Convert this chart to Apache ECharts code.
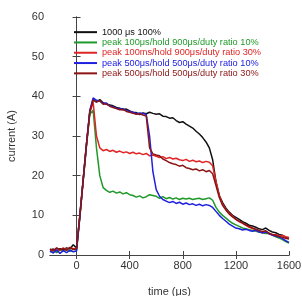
<!DOCTYPE html>
<html>
<head>
<meta charset="utf-8">
<script src="https://cdn.jsdelivr.net/npm/echarts@6/dist/echarts.min.js"></script>
<style>
  html, body { margin: 0; padding: 0; background: #fff; }
  #chart { width: 302px; height: 296px; }
</style>
</head>
<body>
<div id="chart"></div>
<script>
// time axis in µs, every 25 µs from -200 to 1600
const times = []
for (let t = -200; t <= 1600; t += 25) times.push(t)
const xTicks = [0, 400, 800, 1200, 1600]

const names = [
  '1000 μs 100%',
  'peak 100μs/hold 900μs/duty ratio 10%',
  'peak 100ms/hold 900μs/duty ratio 30%',
  'peak 500μs/hold 500μs/duty ratio 10%',
  'peak 500μs/hold 500μs/duty ratio 30%'
]
const colors = ['#111111', '#1f9a2a', '#e02424', '#2020e0', '#8c1414']

const full100 = [
  1.2, 1.5, 1.0, 1.6, 1.4, 1.8, 1.5, 2.6, 1.8,
  10, 19, 28, 36, 39.3, 38.5, 39.2, 38.4, 38.0, 37.8, 37.6, 37.2, 37.0, 36.6, 36.8,
  36.3, 36.0, 35.9, 35.4, 35.8, 35.6, 36.0, 35.7, 35.5, 35.6, 35.0, 34.9, 34.5, 34.6,
  33.9, 33.4, 33.6, 33.0, 32.5, 32.0, 31.2, 30.5, 29.6, 28.5, 27.0, 24.0, 18.5, 15.0,
  13.2, 11.8, 10.8, 10.0, 9.5, 9.0, 8.4, 8.0, 7.5, 7.3, 7.0, 6.6, 6.4, 6.8, 6.2, 5.8,
  5.6, 5.2, 5.0, 4.5, 4.2
]
const p100h900d10 = [
  0.8, 1.2, 0.6, 1.3, 1.0, 1.4, 0.9, 1.5, 1.2,
  9.5, 18.5, 27.5, 35.5, 36.5, 27.0, 20.0, 17.0, 16.3, 15.8, 16.1, 15.6, 15.9, 15.4, 15.7,
  15.2, 15.0, 14.6, 14.9, 14.4, 14.7, 15.2, 15.0, 14.8, 14.3, 14.7, 14.2, 14.5, 14.1,
  14.4, 14.0, 14.3, 14.1, 14.3, 14.0, 14.2, 14.3, 14.0, 14.2, 14.4, 13.8, 12.0, 10.8,
  10.0, 9.3, 8.6, 8.0, 7.6, 7.2, 6.8, 6.6, 6.4, 6.2, 6.0, 5.8, 5.6, 5.4, 5.5, 5.0,
  4.6, 4.3, 3.9, 3.4, 3.0
]
const p100h900d30 = [
  1.4, 1.0, 1.7, 1.2, 1.8, 1.3, 1.9, 1.6, 1.7,
  10, 19, 28, 36, 38.5, 30.0, 27.0, 26.3, 26.6, 26.1, 26.4, 25.9, 26.2, 25.8, 26.0,
  25.6, 25.9, 25.5, 25.7, 25.3, 25.6, 25.0, 25.2, 24.9, 24.6, 24.8, 24.3, 24.6, 24.2,
  24.4, 24.0, 23.8, 24.1, 23.6, 23.9, 23.5, 23.7, 23.3, 23.6, 23.4, 22.5, 18.5, 15.0,
  12.8, 11.5, 10.5, 9.8, 9.0, 8.4, 8.0, 7.5, 7.0, 6.7, 6.3, 6.0, 5.6, 5.9, 5.3, 5.0,
  5.2, 4.8, 4.9, 4.6, 4.4
]
const p500h500d10 = [
  1.0, 0.5, 1.3, 0.4, 1.1, 0.6, 1.2, 0.8, 1.0,
  9.8, 19, 28, 36.5, 39.6, 39.0, 38.8, 38.2, 38.3, 37.6, 37.4, 37.0, 36.8, 36.9, 36.4,
  36.2, 36.0, 35.6, 35.8, 35.7, 35.4, 30.0, 21.0, 16.5, 14.8, 14.0, 13.6, 13.2, 13.5,
  13.0, 13.3, 12.8, 13.1, 12.7, 12.9, 12.5, 12.8, 12.4, 12.7, 12.5, 12.0, 11.0, 10.0,
  9.2, 8.5, 7.8, 7.3, 6.8, 6.6, 6.3, 6.5, 6.2, 6.0, 6.3, 5.8, 5.6, 5.8, 5.4, 5.0,
  4.8, 4.5, 4.2, 3.6, 3.2
]
const p500h500d30 = [
  1.5, 1.1, 1.8, 1.3, 1.6, 1.2, 1.9, 1.4, 1.6,
  10, 19, 28, 36.2, 39.0, 38.6, 38.9, 38.0, 38.1, 37.5, 37.2, 36.9, 36.6, 36.7, 36.2,
  36.0, 35.7, 35.5, 35.6, 35.3, 35.0, 27.0, 25.5, 25.2, 25.0, 24.2, 23.8, 23.3, 23.0,
  22.8, 22.4, 22.6, 22.0, 21.8, 21.5, 21.7, 21.2, 21.5, 21.0, 21.3, 20.5, 17.5, 14.5,
  12.5, 11.3, 10.3, 9.6, 9.0, 8.5, 8.1, 7.6, 7.2, 6.8, 6.5, 6.2, 5.9, 6.1, 5.5, 5.2,
  4.9, 4.7, 4.5, 4.2, 4.0
]
const allData = [full100, p100h900d10, p100h900d30, p500h500d10, p500h500d30]

const chart = echarts.init(document.getElementById('chart'))
const axisCommon = {
  axisLine: { show: true, lineStyle: { color: '#444', width: 1 } },
  splitLine: { show: false }
}
const tickStyle = { show: true, inside: true, length: 4, lineStyle: { color: '#444' } }
const font = 'Liberation Sans'
chart.setOption({
  animation: false,
  grid: { left: 50, right: 13, top: 17, bottom: 41, outerBoundsMode: 'none' },
  legend: {
    left: 74,
    top: 27,
    padding: 0,
    orient: 'vertical',
    icon: 'rect',
    itemWidth: 23,
    itemHeight: 2,
    itemGap: 0,
    textStyle: { fontSize: 9.2, lineHeight: 10.3, fontFamily: font },
    data: names.map((n, i) => ({ name: n, textStyle: { color: colors[i] } }))
  },
  xAxis: [{
    type: 'value',
    min: -200,
    max: 1600,
    name: 'time (μs)',
    nameLocation: 'middle',
    nameGap: 31,
    nameTextStyle: { fontSize: 11, color: '#333', fontFamily: font },
    axisTick: { ...tickStyle, customValues: xTicks },
    axisLabel: {
      fontSize: 11, color: '#333', fontFamily: font, margin: 5,
      customValues: xTicks,
      formatter: v => String(v)
    },
    ...axisCommon
  }, {
    type: 'value',
    position: 'top',
    min: -200,
    max: 1600,
    axisTick: { ...tickStyle, customValues: xTicks.slice(0, 4) },
    axisLabel: { show: false },
    ...axisCommon
  }],
  yAxis: [{
    type: 'value',
    min: 0,
    max: 60,
    interval: 10,
    name: 'current (A)',
    nameLocation: 'middle',
    nameGap: 33,
    nameTextStyle: { fontSize: 11, color: '#333', fontFamily: font },
    axisTick: tickStyle,
    axisLabel: { fontSize: 11, color: '#333', fontFamily: font, margin: 6 },
    ...axisCommon
  }, {
    type: 'value',
    position: 'right',
    min: 0,
    max: 60,
    interval: 10,
    axisTick: tickStyle,
    axisLabel: { show: false },
    ...axisCommon
  }],
  series: names.map((n, i) => ({
    name: n,
    type: 'line',
    showSymbol: false,
    symbol: 'none',
    color: colors[i],
    lineStyle: { width: 1.5, color: colors[i] },
    data: times.map((t, k) => [t, allData[i][k]])
  }))
})
</script>
</body>
</html>
